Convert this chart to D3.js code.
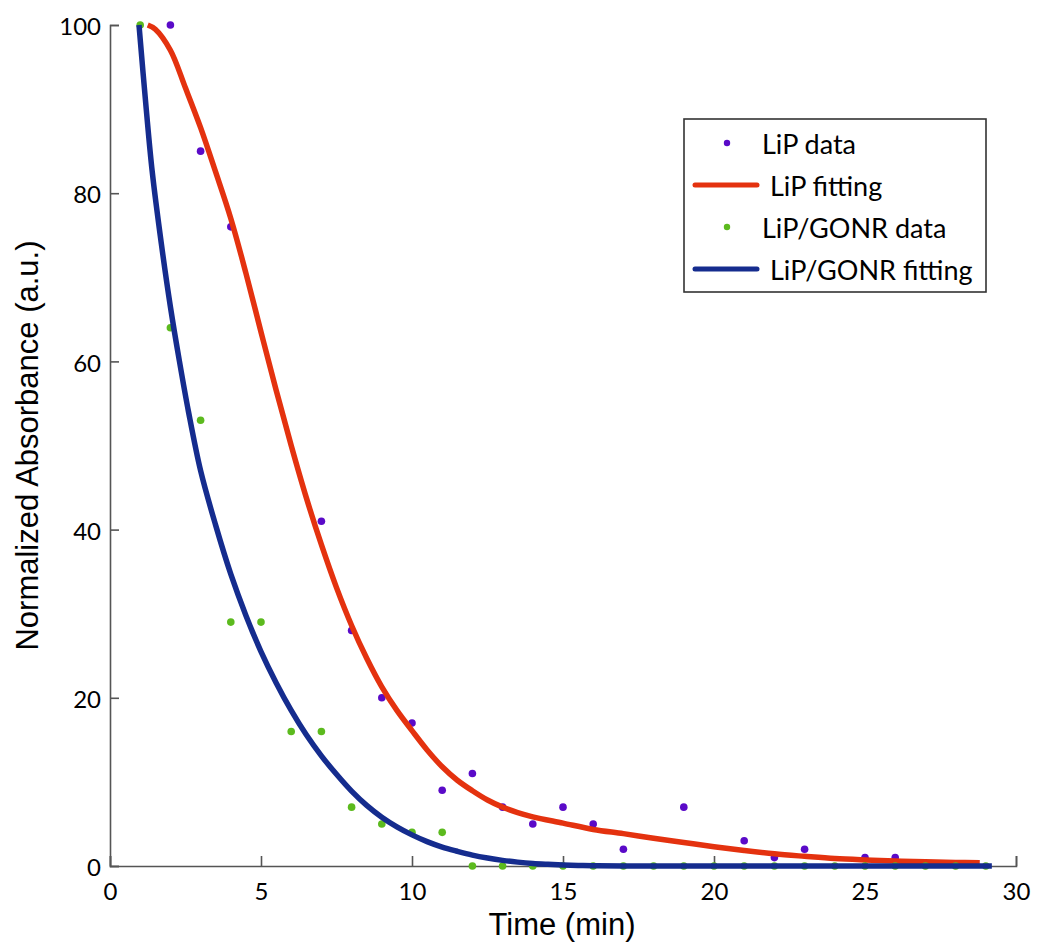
<!DOCTYPE html>
<html>
<head>
<meta charset="utf-8">
<script src="https://cdn.jsdelivr.net/npm/d3@7"></script>
<style>
  html, body { margin: 0; padding: 0; background: #fff; }
  svg { display: block; }
</style>
</head>
<body>
<svg id="chart" width="1037" height="945"></svg>
<script>
// ---- data ----
const xTicks = [0, 5, 10, 15, 20, 25, 30];
const yTicks = [0, 20, 40, 60, 80, 100];

const lipDataX = [2, 3, 4, 7, 8, 9, 10, 11, 12, 13, 14, 15, 16, 17, 19, 21, 22, 23, 25, 26];
const lipDataY = [100, 85, 76, 41, 28, 20, 17, 9, 11, 7, 5, 7, 5, 2, 7, 3, 1, 2, 1, 1];

const gonrDataX = [1, 2, 3, 4, 5, 6, 7, 8, 9, 10, 11, 12, 13, 14, 15, 16, 17, 18, 19, 20, 21, 22, 23, 24, 25, 26, 27, 28, 29];
const gonrDataY = [100, 64, 53, 29, 29, 16, 16, 7, 5, 4, 4, 0, 0, 0, 0, 0, 0, 0, 0, 0, 0, 0, 0, 0, 0, 0, 0, 0, 0];

const lipFitX = [1.25, 1.5, 2.0, 2.5, 3.0, 3.5, 4.0, 4.5, 5.0, 5.5, 6.0, 6.5, 7.0, 7.5, 8.0, 8.5, 9.0, 9.5, 10.0, 10.5, 11.0, 11.5, 12.0, 12.5, 13.0, 13.5, 14.0, 15.0, 16.0, 17.0, 18.0, 19.0, 20.0, 21.0, 22.0, 23.0, 24.0, 25.0, 26.0, 27.0, 28.0, 28.8];
const lipFitY = [100, 99.5, 97, 92.5, 87.8, 82.5, 77, 70.5, 63.5, 56.6, 50, 43.8, 38.2, 33.1, 28.6, 24.7, 21.3, 18.5, 16.1, 13.8, 11.8, 10.2, 8.95, 7.85, 7.0, 6.35, 5.85, 5.1, 4.35, 3.85, 3.3, 2.8, 2.3, 1.85, 1.45, 1.15, 0.88, 0.72, 0.6, 0.5, 0.42, 0.38];

const gonrFitX = [0.96, 1.2, 1.4, 1.7, 2.0, 2.3, 2.6, 3.0, 3.5, 4.0, 4.5, 5.0, 5.5, 6.0, 6.5, 7.0, 7.5, 8.0, 8.5, 9.0, 9.5, 10.0, 10.5, 11.0, 11.5, 12.0, 12.5, 13.0, 13.5, 14.0, 14.5, 15.0, 15.5, 16.0, 17.0, 29.2];
const gonrFitY = [100, 90, 82.5, 74, 66.5, 60, 54, 47, 40.5, 34.7, 29.8, 25.5, 21.8, 18.5, 15.6, 13.1, 10.9, 8.9, 7.2, 5.8, 4.65, 3.7, 2.9, 2.25, 1.75, 1.3, 0.95, 0.67, 0.46, 0.3, 0.2, 0.12, 0.06, 0.03, 0, 0];

const legendLabels = ["LiP data", "LiP fitting", "LiP/GONR data", "LiP/GONR fitting"];

// ---- styles ----
const C_PURPLE = "#5a0ac8", C_RED = "#e4320f", C_GREEN = "#5cba1e", C_BLUE = "#152c8e";
const AXIS = "#555";

const svg = d3.select("#chart");
const x = d3.scaleLinear().domain([0, 30]).range([110, 1016]);
const y = d3.scaleLinear().domain([0, 100]).range([866, 25]);

// axes (ticks inward)
const gx = svg.append("g").attr("transform", `translate(0,${y(0)})`)
  .call(d3.axisBottom(x).tickValues(xTicks).tickSize(-10).tickPadding(0).tickFormat(d3.format("d")));
const gy = svg.append("g").attr("transform", `translate(${x(0)},0)`)
  .call(d3.axisLeft(y).tickValues(yTicks).tickSize(-9).tickPadding(0).tickFormat(d3.format("d")));

[gx, gy].forEach(g => {
  g.select(".domain").attr("stroke", AXIS).attr("stroke-width", 1.6);
  g.selectAll(".tick line").attr("stroke", AXIS).attr("stroke-width", 1.6);
  g.selectAll(".tick text").attr("fill", "#000").style("font-family", "Lato, sans-serif").style("font-size", "24px");
});
gx.selectAll(".tick text").attr("y", 0).attr("dy", null).attr("transform", "translate(0,34)");
gy.selectAll(".tick text").attr("x", -9).attr("dy", "0.4em");

// axis labels
svg.append("text").attr("x", 562).attr("y", 935).attr("text-anchor", "middle")
  .style("font-family", "'Liberation Sans', Arial, sans-serif").style("font-size", "31px")
  .text("Time (min)");
svg.append("text").attr("transform", `translate(38,${(y(0) + y(100)) / 2}) rotate(-90)`)
  .attr("text-anchor", "middle")
  .style("font-family", "'Liberation Sans', Arial, sans-serif").style("font-size", "31px")
  .text("Normalized Absorbance (a.u.)");

// series
const line = d3.line().x(d => x(d[0])).y(d => y(d[1])).curve(d3.curveCatmullRom.alpha(0.5));
const zip = (a, b) => a.map((v, i) => [v, b[i]]);

svg.append("g").selectAll("circle").data(zip(lipDataX, lipDataY)).join("circle")
  .attr("cx", d => x(d[0])).attr("cy", d => y(d[1])).attr("r", 3.8).attr("fill", C_PURPLE);
svg.append("path").datum(zip(lipFitX, lipFitY)).attr("d", line)
  .attr("fill", "none").attr("stroke", C_RED).attr("stroke-width", 5.5);
svg.append("g").selectAll("circle").data(zip(gonrDataX, gonrDataY)).join("circle")
  .attr("cx", d => x(d[0])).attr("cy", d => y(d[1])).attr("r", 3.8).attr("fill", C_GREEN);
svg.append("path").datum(zip(gonrFitX, gonrFitY)).attr("d", line)
  .attr("fill", "none").attr("stroke", C_BLUE).attr("stroke-width", 5.5);

// legend
const lg = svg.append("g");
lg.append("rect").attr("x", 684).attr("y", 119).attr("width", 302).attr("height", 173)
  .attr("fill", "#fff").attr("stroke", "#333").attr("stroke-width", 1.6);
const rowsY = [143, 185, 227, 269];
const kinds = [["dot", C_PURPLE], ["line", C_RED], ["dot", C_GREEN], ["line", C_BLUE]];
kinds.forEach((k, i) => {
  if (k[0] === "dot") {
    lg.append("circle").attr("cx", 727).attr("cy", rowsY[i]).attr("r", 3.2).attr("fill", k[1]);
  } else {
    lg.append("line").attr("x1", 695).attr("x2", 757).attr("y1", rowsY[i]).attr("y2", rowsY[i])
      .attr("stroke", k[1]).attr("stroke-width", 5).attr("stroke-linecap", "round");
  }
  lg.append("text").attr("x", k[0] === "dot" ? 762 : 770).attr("y", rowsY[i] + 2).attr("dy", "0.35em")
    .style("font-family", "Lato, sans-serif").style("font-size", "27px")
    .text(legendLabels[i]);
});
</script>
</body>
</html>
